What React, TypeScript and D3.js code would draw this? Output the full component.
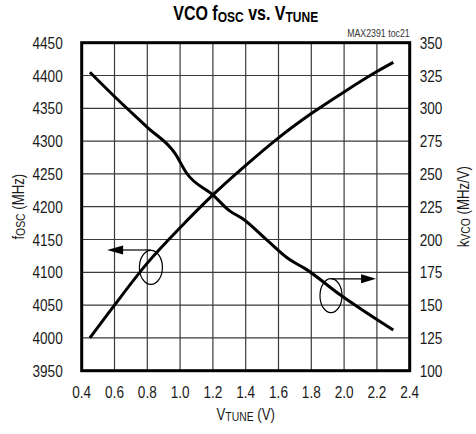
import React from 'react'
import * as d3 from 'd3'

// tuning voltage (V) and VCO frequency (MHz)
const foscV = [0.45, 0.6, 0.8, 1.0, 1.2, 1.4, 1.6, 1.8, 2.0, 2.2, 2.3]
const foscMHz = [4000, 4050, 4114, 4168, 4218, 4263, 4305, 4342, 4375, 4406, 4420]

// tuning voltage (V) and VCO gain (MHz/V)
const kvcoV = [0.45, 0.6, 0.8, 0.97, 1.04, 1.2, 1.3, 1.38, 1.53, 1.67, 1.76, 1.98, 2.2, 2.3]
const kvcoGain = [327.5, 309, 285.5, 265.5, 250.5, 234, 222, 216, 199.5, 184.5, 178, 157.5, 139, 131]

const xTicks = [0.4, 0.6, 0.8, 1.0, 1.2, 1.4, 1.6, 1.8, 2.0, 2.2, 2.4]
const leftTicks = [3950, 4000, 4050, 4100, 4150, 4200, 4250, 4300, 4350, 4400, 4450]
const rightTicks = [100, 125, 150, 175, 200, 225, 250, 275, 300, 325, 350]

const W = 476
const H = 434
const margin = { left: 81.7, right: 66.3, top: 42.7, bottom: 63.3 }
const font = '"Liberation Sans", Arial, sans-serif'
const squeeze = 0.8 // narrow face look-alike

// text drawn with a horizontal squeeze, anchored at (x, y)
const NText = ({ x, y, rotate = 0, anchor = 'start', size = 17, bold = false, fill = '#1a1a1a', children }: any) => (
  <text
    transform={`translate(${x},${y}) rotate(${rotate}) scale(${squeeze},1)`}
    textAnchor={anchor}
    fontFamily={font}
    fontSize={size}
    fontWeight={bold ? 'bold' : 'normal'}
    fill={fill}
  >
    {children}
  </text>
)

const App = () => {
  const x = d3.scaleLinear().domain([0.4, 2.4]).range([margin.left, W - margin.right])
  const yL = d3.scaleLinear().domain([3950, 4450]).range([H - margin.bottom, margin.top])
  const yR = d3.scaleLinear().domain([100, 350]).range([H - margin.bottom, margin.top])

  const foscLine = d3
    .line<number>()
    .x((d, i) => x(foscV[i]))
    .y(d => yL(d))
    .curve(d3.curveMonotoneX)
  const kvcoLine = d3
    .line<number>()
    .x((d, i) => x(kvcoV[i]))
    .y(d => yR(d))
    .curve(d3.curveMonotoneX)

  const [x0, x1] = x.range()
  const [y0, y1] = yL.range()

  // annotation ellipses + arrows, placed in data coords
  const e1 = { cx: x(0.822), cy: yL(4107.5) }
  const a1y = yL(4134)
  const a1end = x(0.555)
  const e2 = { cx: x(1.92), cy: yR(157.2) }
  const a2y = yR(170)
  const a2end = x(2.195)

  return (
    <div style={{ position: 'absolute', left: 0, top: 0 }}>
      <svg width={W} height={H} style={{ display: 'block', background: '#fff' }}>
        {/* grid */}
        {xTicks.map(t => (
          <line key={'gx' + t} x1={x(t)} x2={x(t)} y1={y1} y2={y0} stroke="#3a3a3a" strokeWidth={1.2} />
        ))}
        {leftTicks.map(t => (
          <line key={'gy' + t} x1={x0} x2={x1} y1={yL(t)} y2={yL(t)} stroke="#3a3a3a" strokeWidth={1.2} />
        ))}
        <rect x={x0} y={y1} width={x1 - x0} height={y0 - y1} fill="none" stroke="#000" strokeWidth={3} />

        {/* curves */}
        <path d={foscLine(foscMHz) || ''} fill="none" stroke="#000" strokeWidth={3} />
        <path d={kvcoLine(kvcoGain) || ''} fill="none" stroke="#000" strokeWidth={3} />

        {/* annotations */}
        <ellipse cx={e1.cx} cy={e1.cy} rx={11.5} ry={17} fill="none" stroke="#000" strokeWidth={1.2} />
        <line x1={e1.cx} x2={a1end + 12} y1={a1y} y2={a1y} stroke="#000" strokeWidth={1.2} />
        <path d={`M${a1end},${a1y} L${a1end + 16},${a1y - 4.5} L${a1end + 16},${a1y + 4.5} Z`} fill="#000" />
        <ellipse cx={e2.cx} cy={e2.cy} rx={11} ry={17} fill="none" stroke="#000" strokeWidth={1.2} />
        <line x1={e2.cx} x2={a2end - 12} y1={a2y} y2={a2y} stroke="#000" strokeWidth={1.2} />
        <path d={`M${a2end},${a2y} L${a2end - 15},${a2y - 4.5} L${a2end - 15},${a2y + 4.5} Z`} fill="#000" />

        {/* tick labels */}
        {leftTicks.map(t => (
          <NText key={'l' + t} x={x0 - 19} y={yL(t) + 6} anchor="end">
            {t}
          </NText>
        ))}
        {rightTicks.map(t => (
          <NText key={'r' + t} x={x1 + 10} y={yR(t) + 6}>
            {t}
          </NText>
        ))}
        {xTicks.map(t => (
          <NText key={'x' + t} x={x(t)} y={y0 + 27} anchor="middle">
            {t.toFixed(1)}
          </NText>
        ))}

        {/* axis titles */}
        <NText x={(x0 + x1) / 2} y={H - 14} anchor="middle" size={16.5}>
          V<tspan fontSize={13} dy={1}>TUNE</tspan>
          <tspan dy={-1}> (V)</tspan>
        </NText>
        <NText x={24} y={(y0 + y1) / 2} rotate={-90} anchor="middle" size={16.5}>
          f<tspan fontSize={13} dy={1}>OSC</tspan>
          <tspan dy={-1}> (MHz)</tspan>
        </NText>
        <NText x={469} y={(y0 + y1) / 2} rotate={-90} anchor="middle" size={16.5}>
          k<tspan fontSize={13} dy={1}>VCO</tspan>
          <tspan dy={-1}> (MHz/V)</tspan>
        </NText>

        {/* title */}
        <NText x={(x0 + x1) / 2} y={20} anchor="middle" size={20} bold fill="#000">
          VCO f<tspan fontSize={15} dy={2}>OSC</tspan>
          <tspan dy={-2}> vs. V</tspan>
          <tspan fontSize={15} dy={2}>TUNE</tspan>
        </NText>
        <NText x={x1} y={37} anchor="end" size={11} fill="#333">
          MAX2391 toc21
        </NText>
      </svg>
    </div>
  )
}

export default App
